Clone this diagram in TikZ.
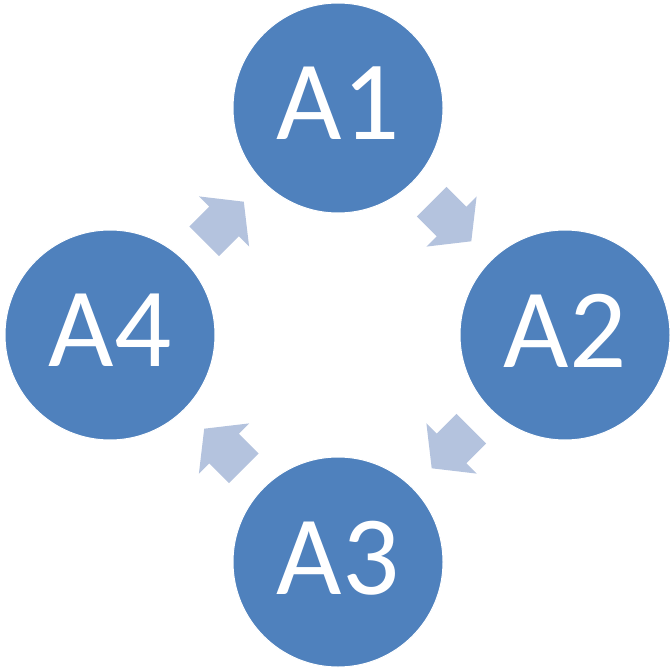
\documentclass[tikz,border=0pt]{standalone}
\usepackage{fontspec}
\setmainfont{Carlito}
\usetikzlibrary{calc}
\definecolor{circblue}{HTML}{4F81BD}
\definecolor{arrowblue}{HTML}{B4C3DE}
\tikzset{
  circ/.style={circle, fill=circblue, draw=white, line width=1pt, minimum size=210pt, inner sep=0pt,
    text=white, font=\fontsize{113}{113}\selectfont, text depth=9pt},
  blockarrow/.style={fill=arrowblue}
}
\begin{document}
\begin{tikzpicture}[x=1pt,y=1pt]
\useasboundingbox (0,0) rectangle (669,-671);
\node[circ] (A1) at (338,-108) {A1};
\node[circ] (A2) at (565,-335) {A2};
\node[circ] (A3) at (338,-562) {A3};
\node[circ] (A4) at (110,-335) {A4};
\coordinate (m12) at ($(A1)!0.5!(A2)$);
\coordinate (m23) at ($(A2)!0.5!(A3)$);
\coordinate (m34) at ($(A3)!0.5!(A4)$);
\coordinate (m41) at ($(A4)!0.5!(A1)$);
\foreach \m/\r in {m41/45, m12/-45, m23/-135, m34/135}{
  \fill[blockarrow, shift={(\m)}, rotate=\r]
    (-28,-21) -- (0,-21) -- (0,-35.5) -- (28,0) -- (0,35.5) -- (0,21) -- (-28,21) -- cycle;
}
\end{tikzpicture}
\end{document}
